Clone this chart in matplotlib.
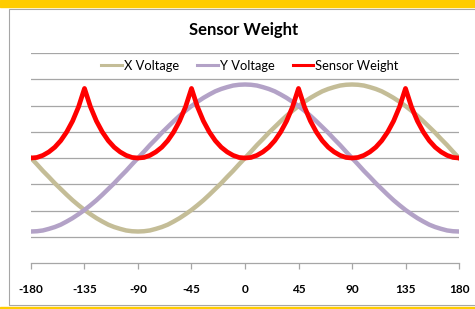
import matplotlib
matplotlib.use('Agg')
import matplotlib.pyplot as plt
from matplotlib.patches import Rectangle
import numpy as np

plt.rcParams['font.family'] = ['Lato', 'DejaVu Sans']

# angle in degrees, 5 degree steps
angles = np.arange(-180, 185, 5)

x_voltage = [0.00, -0.24, -0.49, -0.72, -0.96, -1.18, -1.40, -1.61, -1.80, -1.98,
             -2.14, -2.29, -2.42, -2.54, -2.63, -2.70, -2.76, -2.79, -2.80,
             -2.79, -2.76, -2.70, -2.63, -2.54, -2.42, -2.29, -2.14, -1.98,
             -1.80, -1.61, -1.40, -1.18, -0.96, -0.72, -0.49, -0.24, 0.00,
             0.24, 0.49, 0.72, 0.96, 1.18, 1.40, 1.61, 1.80, 1.98,
             2.14, 2.29, 2.42, 2.54, 2.63, 2.70, 2.76, 2.79, 2.80,
             2.79, 2.76, 2.70, 2.63, 2.54, 2.42, 2.29, 2.14, 1.98,
             1.80, 1.61, 1.40, 1.18, 0.96, 0.72, 0.49, 0.24, 0.00]

y_voltage = [-2.80, -2.79, -2.76, -2.70, -2.63, -2.54, -2.42, -2.29, -2.14, -1.98,
             -1.80, -1.61, -1.40, -1.18, -0.96, -0.72, -0.49, -0.24, 0.00,
             0.24, 0.49, 0.72, 0.96, 1.18, 1.40, 1.61, 1.80, 1.98,
             2.14, 2.29, 2.42, 2.54, 2.63, 2.70, 2.76, 2.79, 2.80,
             2.79, 2.76, 2.70, 2.63, 2.54, 2.42, 2.29, 2.14, 1.98,
             1.80, 1.61, 1.40, 1.18, 0.96, 0.72, 0.49, 0.24, 0.00,
             -0.24, -0.49, -0.72, -0.96, -1.18, -1.40, -1.61, -1.80, -1.98,
             -2.14, -2.29, -2.42, -2.54, -2.63, -2.70, -2.76, -2.79, -2.80]

sensor_weight = [0.00, 0.02, 0.10, 0.23, 0.41, 0.66, 0.99, 1.41, 1.95, 2.65,
                 1.95, 1.41, 0.99, 0.66, 0.41, 0.23, 0.10, 0.02, 0.00,
                 0.02, 0.10, 0.23, 0.41, 0.66, 0.99, 1.41, 1.95, 2.65,
                 1.95, 1.41, 0.99, 0.66, 0.41, 0.23, 0.10, 0.02, 0.00,
                 0.02, 0.10, 0.23, 0.41, 0.66, 0.99, 1.41, 1.95, 2.65,
                 1.95, 1.41, 0.99, 0.66, 0.41, 0.23, 0.10, 0.02, 0.00,
                 0.02, 0.10, 0.23, 0.41, 0.66, 0.99, 1.41, 1.95, 2.65,
                 1.95, 1.41, 0.99, 0.66, 0.41, 0.23, 0.10, 0.02, 0.00]

x_ticks = [-180, -135, -90, -45, 0, 45, 90, 135, 180]

W, H = 475, 309
fig = plt.figure(figsize=(W / 100, H / 100), dpi=100)

# yellow bands and chart border
fig.patches.append(Rectangle((0, 1 - 7 / H), 1, 7 / H, transform=fig.transFigure,
                             color='#FFCC00', zorder=0))
fig.patches.append(Rectangle((0, 0), 1, 2.5 / H, transform=fig.transFigure,
                             color='#FFCC00', zorder=0))
fig.patches.append(Rectangle((9 / W, 4 / H), 1.2, (305 - 9) / H, transform=fig.transFigure,
                             fill=False, edgecolor='#A6A6A6', lw=0.8, zorder=1))

ax = fig.add_axes([31 / W, (H - 263) / H, (459 - 31) / W, (263 - 53) / H])
ax.set_xlim(-180, 180)
ax.set_ylim(-4, 4)

for g in [-3, -2, -1, 0, 1, 2, 3, 4]:
    ax.axhline(g, color='#A6A6A6', lw=0.9, zorder=1)

ax.plot(angles, x_voltage, color='#C4BD97', lw=3.2, label='X Voltage', zorder=2)
ax.plot(angles, y_voltage, color='#B3A2C7', lw=3.2, label='Y Voltage', zorder=3)
ax.plot(angles, sensor_weight, color='#FF0000', lw=3.4, label='Sensor Weight', zorder=4)

for side in ['top', 'right', 'left']:
    ax.spines[side].set_visible(False)
ax.spines['bottom'].set_color('#A6A6A6')
ax.spines['bottom'].set_linewidth(0.9)
ax.set_yticks([])
ax.set_xticks(x_ticks)
ax.set_xticklabels([str(t) for t in x_ticks], fontsize=8.5, fontweight='bold')
ax.tick_params(axis='x', length=4, width=0.9, color='#A6A6A6', pad=11)

fig.text(244 / W, 1 - 30 / H, 'Sensor Weight', ha='center', va='center',
         fontsize=12, fontweight='bold')

leg = fig.legend(loc='center', bbox_to_anchor=(250 / W, 1 - 66 / H), ncol=3, frameon=False,
                 fontsize=9.3, handlelength=1.6, handletextpad=0.15, columnspacing=1.4)
for line in leg.get_lines():
    line.set_linewidth(2.2)

fig.savefig('out.png', dpi=100)
